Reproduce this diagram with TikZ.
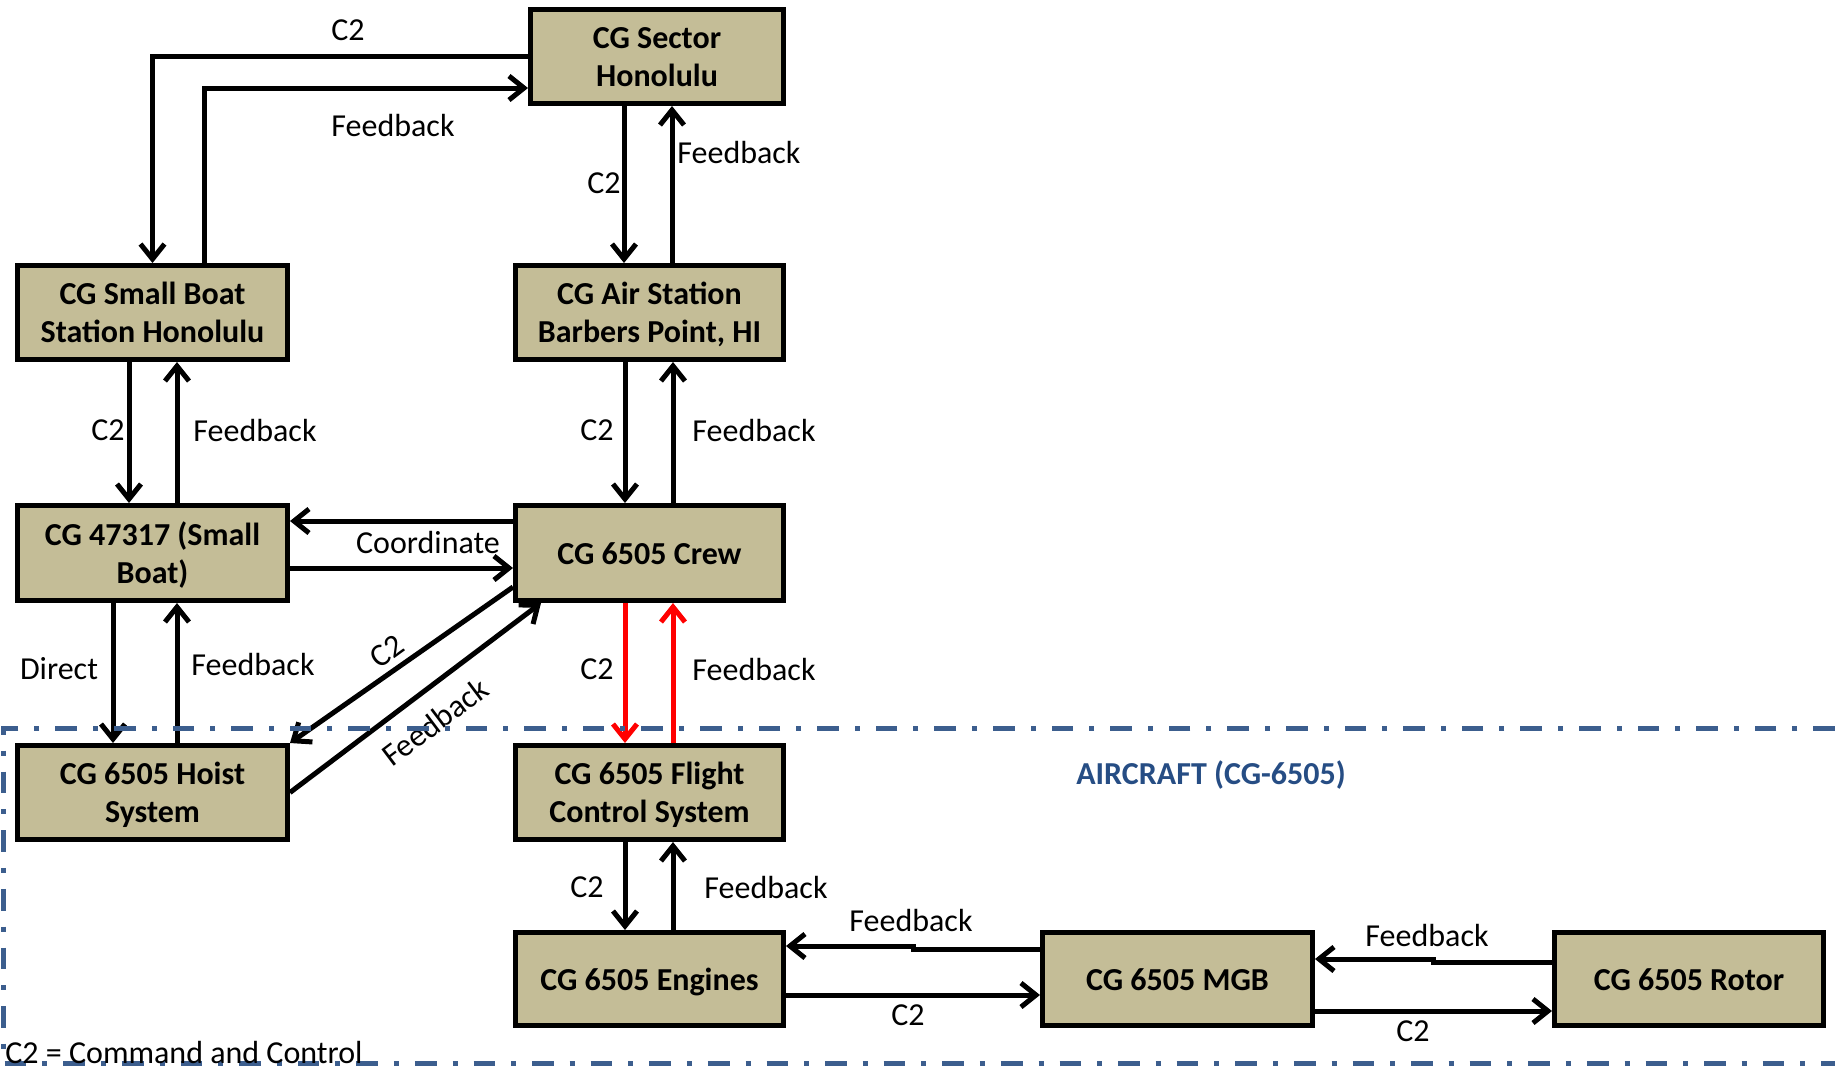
\documentclass[tikz,border=0pt]{standalone}
\usepackage{fontspec}
\setmainfont{Carlito}
\usetikzlibrary{calc,arrows.meta}
\definecolor{boxfill}{HTML}{C4BD97}
\definecolor{bnd}{HTML}{3C5E8E}
\definecolor{acft}{HTML}{264D84}
\newcommand\dgfont{\fontsize{16}{19}\selectfont}
\newcommand\bx[1]{\raisebox{-1.75pt}[\height][\depth]{\begin{tabular}{@{}c@{}}#1\end{tabular}}}
\begin{document}
\begin{tikzpicture}[x=0.5pt,y=-0.5pt,
  box/.style={draw=black, line width=2.5pt, fill=boxfill, inner sep=0pt,
    minimum width=134pt, minimum height=47pt, font=\dgfont\bfseries},
  lbl/.style={inner sep=0pt, font=\dgfont},
  arr/.style={line width=2.5pt, draw=black, -{Straight Barb[length=7.5pt,width=12pt]}},
  redarr/.style={line width=2.5pt, draw=red, -{Straight Barb[length=7.5pt,width=12pt]}},
  bound/.style={line width=2.5pt, draw=bnd, dash pattern=on 10.8pt off 8pt on 2.5pt off 8pt}
]
\useasboundingbox (0,0) rectangle (1835,1067);

% boxes
\node[box, minimum width=126.5pt] (sector) at (657,56.5) {\bx{CG Sector\\Honolulu}};
\node[box, minimum width=135pt] (smallboat) at (152.5,312.5) {\bx{CG Small Boat\\Station Honolulu}};
\node[box] (air) at (649.5,312.5) {\bx{CG Air Station\\Barbers Point, HI}};
\node[box, minimum width=135pt, minimum height=47.5pt] (b47) at (152.5,553) {\bx{CG 47317 (Small\\Boat)}};
\node[box, minimum height=47.5pt] (crew) at (649.5,553) {\bx{CG 6505 Crew}};
\node[box, minimum width=135pt] (hoist) at (152.5,792.5) {\bx{CG 6505 Hoist\\System}};
\node[box] (fcs) at (649.5,792.5) {\bx{CG 6505 Flight\\Control System}};
\node[box, minimum height=46.5pt] (engines) at (649.5,979) {\bx{CG 6505 Engines}};
\node[box, minimum width=135pt, minimum height=46.5pt] (mgb) at (1177.5,979) {\bx{CG 6505 MGB}};
\node[box, minimum width=134.5pt, minimum height=46.5pt] (rotor) at (1689,979) {\bx{CG 6505 Rotor}};

% sector <-> small boat station
\draw[arr] (sector.west) -| (smallboat.north);
\coordinate (f1) at ($(smallboat.north)+(51.5,0)$);
\coordinate (f2) at ($(sector.west)+(0,31.5)$);
\draw[arr] (f1) |- (f2);
\node[lbl] (l1) at (348,30) {C2};
\node[lbl] (l2) at (393,125) {Feedback};

% sector <-> air station
\coordinate (sa1) at ($(sector.south)+(-33,0)$);
\draw[arr] (sa1) -- (sa1 |- air.north);
\coordinate (as1) at ($(air.north)+(22.5,0)$);
\draw[arr] (as1) -- (as1 |- sector.south);
\node[lbl] (l3) at (604,183) {C2};
\node[lbl, anchor=west] (l4) at (677,152) {Feedback};

% small boat station <-> 47317
\coordinate (sb1) at ($(smallboat.south)+(-23.5,0)$);
\draw[arr] (sb1) -- (sb1 |- b47.north);
\coordinate (sb2) at ($(b47.north)+(24.5,0)$);
\draw[arr] (sb2) -- (sb2 |- smallboat.south);
\node[lbl] (l5) at (108,430) {C2};
\node[lbl] (l6) at (255,430) {Feedback};

% air station <-> crew
\coordinate (ac1) at ($(air.south)+(-24.5,0)$);
\draw[arr] (ac1) -- (ac1 |- crew.north);
\coordinate (ac2) at ($(crew.north)+(23.5,0)$);
\draw[arr] (ac2) -- (ac2 |- air.south);
\node[lbl] (l7) at (597,430) {C2};
\node[lbl] (l8) at (754,430) {Feedback};

% 47317 <-> crew
\coordinate (c1) at ($(crew.west)+(0,-32)$);
\draw[arr] (c1) -- (c1 -| b47.east);
\coordinate (c2) at ($(b47.east)+(0,15)$);
\draw[arr] (c2) -- (c2 -| crew.west);
\node[lbl] (l9) at (428,542) {Coordinate};

% 47317 <-> hoist
\coordinate (bh1) at ($(b47.south)+(-39.5,0)$);
\draw[arr] (bh1) -- (bh1 |- hoist.north);
\coordinate (bh2) at ($(hoist.north)+(24.5,0)$);
\draw[arr] (bh2) -- (bh2 |- b47.south);
\node[lbl] (l10) at (59,669) {Direct};
\node[lbl] (l11) at (253,664) {Feedback};

% crew <-> hoist (diagonals)
\coordinate (d1) at ($(crew.west)+(0,34)$);
\draw[arr] (d1) -- (hoist.north east);
\coordinate (d2) at ($(crew.south west)+(28,0)$);
\draw[arr] (hoist.east) -- (d2);
\node[lbl, rotate=36] (l12) at (387,651) {C2};
\node[lbl, rotate=37] (l13) at (435,722) {Feedback};

% crew <-> flight control (red)
\coordinate (cf1) at ($(crew.south)+(-24.5,0)$);
\draw[redarr] (cf1) -- (cf1 |- fcs.north);
\coordinate (cf2) at ($(fcs.north)+(23.5,0)$);
\draw[redarr] (cf2) -- (cf2 |- crew.south);
\node[lbl] (l14) at (597,669) {C2};
\node[lbl] (l15) at (754,669) {Feedback};

% flight control <-> engines
\coordinate (fe1) at ($(fcs.south)+(-24.5,0)$);
\draw[arr] (fe1) -- (fe1 |- engines.north);
\coordinate (fe2) at ($(engines.north)+(23.5,0)$);
\draw[arr] (fe2) -- (fe2 |- fcs.south);
\node[lbl] (l16) at (587,887) {C2};
\node[lbl] (l17) at (766,887) {Feedback};

% engines <-> MGB
\coordinate (m1) at ($(mgb.west)+(0,-30)$);
\coordinate (m1b) at ($(m1)+(-127,-3)$);
\draw[arr] (m1) -- ++(-127,0) -- (m1b) -- (m1b -| engines.east);
\coordinate (m2) at ($(engines.east)+(0,16)$);
\draw[arr] (m2) -- (m2 -| mgb.west);
\node[lbl] (l18) at (911,920) {Feedback};
\node[lbl] (l19) at (908,1015) {C2};

% MGB <-> rotor
\coordinate (r1) at ($(rotor.west)+(0,-17)$);
\coordinate (r1b) at ($(r1)+(-119,-3)$);
\draw[arr] (r1) -- ++(-119,0) -- (r1b) -- (r1b -| mgb.east);
\coordinate (r2) at ($(mgb.east)+(0,32)$);
\draw[arr] (r2) -- (r2 -| rotor.west);
\node[lbl] (l20) at (1427,935) {Feedback};
\node[lbl] (l21) at (1413,1031) {C2};

% aircraft boundary
\draw[bound] (1835,728.5) -- (3,728.5) -- (3,1063) -- (1835,1063);
\node[lbl, font=\dgfont\bfseries, text=acft] (acft) at (1211,775) {AIRCRAFT (CG-6505)};
\node[lbl, anchor=west] (note) at (5,1052) {C2 = Command and Control};
\end{tikzpicture}
\end{document}
